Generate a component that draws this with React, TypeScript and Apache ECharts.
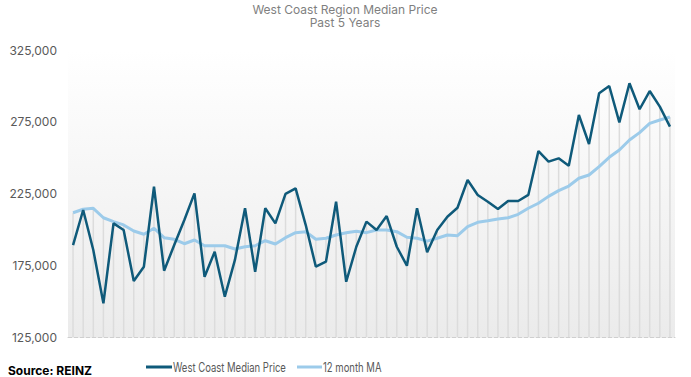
import React, { useEffect, useRef } from "react";
import * as echarts from "echarts";

const titleText = "West Coast Region Median Price";
const subtitleText = "Past 5 Years";
const sourceText = "Source: REINZ";
const seriesNames = ["West Coast Median Price", "12 month MA"];
const seriesColors = ["#0f5a7a", "#9ccbea"];

const medianPrice = [
  189000, 213500, 185600, 148500, 204200, 199600, 164000, 174000, 229700, 171200,
  189100, 206500, 225100, 167000, 184400, 153100, 178700, 214700, 170500, 214700,
  204200, 224700, 228600, 203000, 174000, 177500, 219300, 163500, 187900, 205400,
  199600, 209300, 187900, 174700, 214700, 184000, 199600, 208800, 215100, 234400,
  224000, 219300, 214200, 219800, 219800, 224000, 254600, 247200, 249500, 244400,
  279700, 259500, 294800, 299900, 274600, 301800, 283700, 296400, 285500, 271600,
];

const movingAverage = [
  211600, 214000, 214700, 208100, 205400, 203100, 198900, 196600, 200800, 194200,
  193100, 190000, 192600, 188600, 188600, 188600, 186300, 187900, 188600, 192100,
  189800, 194200, 197700, 198300, 193100, 193800, 196100, 197700, 198700, 197700,
  199600, 199600, 198400, 194500, 193800, 191800, 193800, 196100, 195600, 201900,
  204900, 206000, 207200, 208100, 210500, 214700, 218200, 223000, 227000, 230200,
  235600, 237900, 243700, 250200, 255300, 262300, 267400, 273900, 276200, 278300,
];

const months = medianPrice.map((_, i) => `M${i + 1}`);

const yMin = 125000;
const yMax = 325000;
const yStep = 50000;

export default function App() {
  const ref = useRef<HTMLDivElement>(null);

  useEffect(() => {
    if (!ref.current) return;
    const chart = echarts.init(ref.current, undefined, { renderer: "svg" });
    const dropLines = medianPrice.map((v, i) => Math.max(v, movingAverage[i]));
    const legendY = 367;
    const legendItems = [
      { x: 146, w: 26 },
      { x: 297, w: 25 },
    ];
    const legendGraphics: any[] = [];
    legendItems.forEach((it, i) => {
      legendGraphics.push({
        type: "line",
        shape: { x1: it.x, y1: legendY, x2: it.x + it.w, y2: legendY },
        style: { stroke: seriesColors[i], lineWidth: 3 },
        silent: true,
      });
      legendGraphics.push({
        type: "text",
        x: it.x + it.w + 1,
        y: legendY,
        scaleX: 0.76,
        style: {
          text: seriesNames[i],
          fontSize: 12.5,
          fill: "#595959",
          fontFamily: "Inter, sans-serif",
          verticalAlign: "middle",
          align: "left",
        },
        silent: true,
      });
    });
    const titleStyle = {
      fontSize: 12,
      fill: "#7f7f7f",
      fontFamily: "Inter, sans-serif",
      align: "center",
      verticalAlign: "middle",
    };
    chart.setOption({
      animation: false,
      backgroundColor: "#ffffff",
      textStyle: { fontFamily: "Inter, 'Noto Sans', sans-serif" },
      graphic: [
        { type: "text", x: 345, y: 9, silent: true, style: { ...titleStyle, text: titleText } },
        { type: "text", x: 345, y: 22.5, silent: true, style: { ...titleStyle, text: subtitleText } },
        {
          type: "text",
          left: 8,
          top: 364,
          style: {
            text: sourceText,
            fontSize: 12,
            fontWeight: "bold",
            fill: "#000000",
            fontFamily: "Inter, sans-serif",
          },
        },
        ...legendGraphics,
      ],
      grid: {
        left: 68,
        right: 16,
        top: 50,
        bottom: 40,
        show: true,
        borderWidth: 0,
        backgroundColor: new echarts.graphic.LinearGradient(0, 0, 0, 1, [
          { offset: 0, color: "#ffffff" },
          { offset: 1, color: "#ebebeb" },
        ]),
      },
      xAxis: {
        type: "category",
        data: months,
        boundaryGap: true,
        axisLabel: { show: false },
        axisTick: { show: false },
        axisLine: { show: true, lineStyle: { color: "#cfcfcf", type: "dashed", width: 1 } },
        splitLine: { show: false },
      },
      yAxis: {
        type: "value",
        min: yMin,
        max: yMax,
        interval: yStep,
        axisLine: { show: false },
        axisTick: { show: false },
        splitLine: { show: false },
        axisLabel: {
          color: "#595959",
          fontSize: 12,
          margin: 11,
          fontFamily: "Inter, sans-serif",
          formatter: (v: number) => v.toLocaleString("en-US"),
        },
      },
      series: [
        {
          name: "drop",
          type: "bar",
          data: dropLines,
          barWidth: 1.5,
          itemStyle: { color: "#dcdcdc" },
          silent: true,
          z: 1,
        },
        {
          name: seriesNames[0],
          type: "line",
          data: medianPrice,
          symbol: "none",
          lineStyle: { color: seriesColors[0], width: 2.5 },
          itemStyle: { color: seriesColors[0] },
          z: 4,
        },
        {
          name: seriesNames[1],
          type: "line",
          data: movingAverage,
          symbol: "none",
          lineStyle: { color: seriesColors[1], width: 3 },
          itemStyle: { color: seriesColors[1] },
          z: 3,
        },
      ],
    });
    return () => chart.dispose();
  }, []);

  return <div ref={ref} style={{ width: 691, height: 377, position: "fixed", left: 0, top: 0 }} />;
}
